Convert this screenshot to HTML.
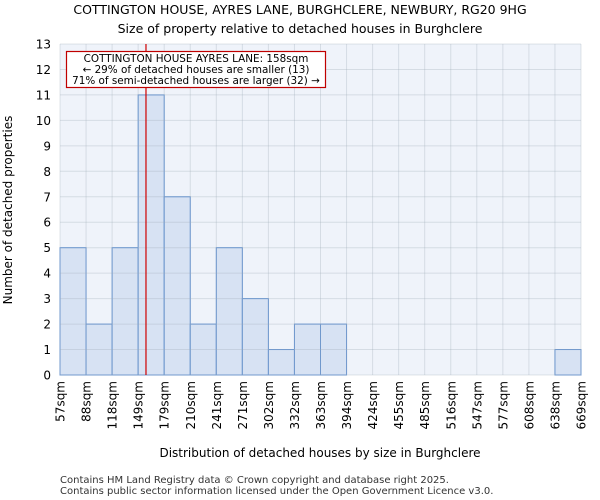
<!DOCTYPE html>
<html><head><meta charset="utf-8"><style>
body{margin:0;background:#fff;}
svg{display:block;font-family:"DejaVu Sans","Liberation Sans",sans-serif;}
</style></head><body>
<svg id="chart" width="600" height="500">
<text x="300" y="14" text-anchor="middle" font-size="12.5">COTTINGTON HOUSE, AYRES LANE, BURGHCLERE, NEWBURY, RG20 9HG</text>
<text x="300" y="33" text-anchor="middle" font-size="12.5">Size of property relative to detached houses in Burghclere</text>
<rect x="60" y="44" width="521" height="331" fill="#eff3fa"/>
<g id="bars"></g>
<g id="grid"></g>
<g id="yticks"></g>
<g id="xticks"></g>
<line id="marker" y1="44" y2="375" stroke="#d00000" stroke-width="1.2"/>
<g>
<rect x="66.5" y="51.5" width="259" height="36" fill="#fff" stroke="#c00000" stroke-width="1.2"/>
<text x="196" y="62" text-anchor="middle" font-size="10.4">COTTINGTON HOUSE AYRES LANE: 158sqm</text>
<text x="196" y="73" text-anchor="middle" font-size="10.4">← 29% of detached houses are smaller (13)</text>
<text x="196" y="84" text-anchor="middle" font-size="10.4">71% of semi-detached houses are larger (32) →</text>
</g>
<text transform="translate(12,210) rotate(-90)" text-anchor="middle" font-size="12">Number of detached properties</text>
<text x="320" y="457" text-anchor="middle" font-size="12">Distribution of detached houses by size in Burghclere</text>
<text x="60" y="483" font-size="10" fill="#333">Contains HM Land Registry data © Crown copyright and database right 2025.</text>
<text x="60" y="494" font-size="10" fill="#333">Contains public sector information licensed under the Open Government Licence v3.0.</text>
</svg>
<script>
const binLabels=["57sqm","88sqm","118sqm","149sqm","179sqm","210sqm","241sqm","271sqm","302sqm","332sqm","363sqm","394sqm","424sqm","455sqm","485sqm","516sqm","547sqm","577sqm","608sqm","638sqm","669sqm"];
const binEdges=[57,88,118,149,179,210,241,271,302,332,363,394,424,455,485,516,547,577,608,638,669];
const counts=[5,2,5,11,7,2,5,3,1,2,2,0,0,0,0,0,0,0,0,1];
const yTicks=[0,1,2,3,4,5,6,7,8,9,10,11,12,13];
const propertySize=158;
const NS="http://www.w3.org/2000/svg";
const X0=60,X1=581,Y0=375,Y1=44,YMAX=13;
const nb=counts.length;
function xi(i){return X0+i*(X1-X0)/nb;}
function xv(v){return X0+(v-binEdges[0])/(binEdges[binEdges.length-1]-binEdges[0])*(X1-X0);}
function y(v){return Y0-v*(Y0-Y1)/YMAX;}
function mk(t,a,p){const e=document.createElementNS(NS,t);for(const k in a)e.setAttribute(k,a[k]);p.appendChild(e);return e;}
const bars=document.getElementById('bars'),grid=document.getElementById('grid'),yt=document.getElementById('yticks'),xt=document.getElementById('xticks');
counts.forEach((c,i)=>{if(c<=0)return;
 const r=mk('rect',{x:xi(i),y:y(c),width:xi(i+1)-xi(i),height:y(0)-y(c),fill:'#d7e2f3',stroke:'#5b8fd6','stroke-width':1},bars);
 
 
});
yTicks.forEach(t=>{
 const l=mk('line',{x1:X0,x2:X1,y1:y(t),y2:y(t),stroke:'rgba(160,170,185,0.32)','stroke-width':1},grid);
 
 
 const tx=mk('text',{x:51,y:y(t)+4.5,'text-anchor':'end','font-size':12},yt);tx.textContent=t;
 
 
});
binLabels.forEach((lb,i)=>{
 const xx=xi(i);
 const l=mk('line',{x1:xx,x2:xx,y1:Y1,y2:Y0,stroke:'rgba(160,170,185,0.32)','stroke-width':1},grid);
 
 
 const tx=mk('text',{transform:`translate(${xx+4.5},381) rotate(-90)`,'text-anchor':'end','font-size':12},xt);tx.textContent=lb;
 
 
});
const m=document.getElementById('marker');m.setAttribute('x1',xv(propertySize));m.setAttribute('x2',xv(propertySize));
</script>
</body></html>
